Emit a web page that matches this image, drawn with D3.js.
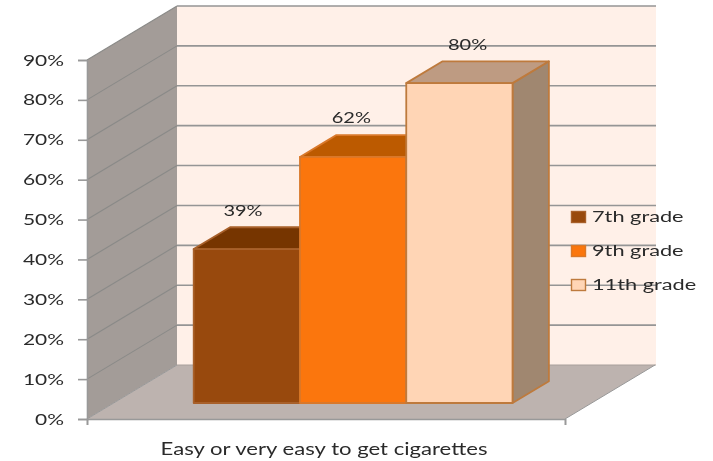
<!DOCTYPE html>
<html><head><meta charset="utf-8">
<script src="https://cdn.jsdelivr.net/npm/d3@7"></script>
<style>html,body{margin:0;padding:0;background:#fff}svg{display:block}
text{font-family:Lato,"Open Sans",sans-serif;fill:#2b2b2b}</style></head>
<body><div id="chart"></div>
<script>
const category = "Easy or very easy to get cigarettes";
const seriesNames = ["7th grade","9th grade","11th grade"];
const seriesValues = [38.6,61.7,80.2];
const valueLabels = ["39%","62%","80%"];
const tickValues = [0,10,20,30,40,50,60,70,80,90];
const frontColors = ["#984807","#FB760C","#FFD5B5"];
const topColors = ["#763604","#BC5A04","#BE9B82"];
const sideColors = ["#6a3005","#A85004","#A08770"];
const edgeColors = ["#A8602A","#D9782A","#BE7A3C"];

const W=713,H=461;
const svg=d3.select("#chart").append("svg").attr("width",W).attr("height",H);
const defs=svg.append("defs");
defs.append("filter").attr("id","soft").append("feGaussianBlur").attr("stdDeviation",0.45);
const root=svg.append("g").attr("filter","url(#soft)");

// oblique projection
const depthX=90, depthY=-54;
const y=d3.scaleLinear().domain([0,90]).range([419,60]);
const x=d3.scaleLinear().domain([0,1]).range([87,565]);
const xSeries=d3.scaleBand().domain(seriesNames).range([x(0.1675),x(0.8345)]);
const pt=(fx,v,z)=>[fx+depthX*z,y(v)+depthY*z];
const path=d3.line();
const poly=(g,pts,fill,stroke,sw)=>g.append("path").attr("d",path(pts)+"Z")
  .attr("fill",fill).attr("stroke",stroke||"none").attr("stroke-width",sw||0).attr("stroke-linejoin","round");

const x0=x(0),x1=x(1),wallEnd=x1+depthX+1;
// back wall, side wall, floor
poly(root,[pt(x0,0,1),pt(wallEnd-depthX,0,1),pt(wallEnd-depthX,90,1),pt(x0,90,1)],"#FFF0E8");
poly(root,[pt(x0,0,0),pt(x0,0,1),pt(x0,90,1),pt(x0,90,0)],"#A39C98");
poly(root,[pt(x0,0,0),pt(x1,0,0),pt(x1,0,1),pt(x0,0,1)],"#BDB3AF");

// gridlines
const grid=root.append("g");
tickValues.forEach(v=>{
  if(v>0) grid.append("path").attr("d",path([pt(x0,v,0),pt(x0,v,1)])).attr("fill","none").attr("stroke","#8A8A88").attr("stroke-width",1.1);
  grid.append("path").attr("d",path([pt(x0,v,1),pt(wallEnd-depthX,v,1)])).attr("fill","none")
    .attr("stroke",v>0?"#959595":"#A8A09C").attr("stroke-width",v>0?1.6:1);
});
root.append("path").attr("d",path([pt(x0,0,0),pt(x0,0,1)])).attr("stroke","#999").attr("fill","none");
root.append("path").attr("d",path([pt(x1,0,0),pt(x1,0,1)])).attr("stroke","#999").attr("fill","none");

// axes
const yAxis=root.append("g").attr("transform",`translate(${x0},0)`)
  .call(d3.axisLeft(y).tickValues(tickValues).tickSize(9).tickPadding(0).tickFormat(d=>d+"%"));
yAxis.selectAll("line").attr("stroke","#999").attr("stroke-width",1.6);
yAxis.select(".domain").attr("stroke","#999").attr("stroke-width",1.6);
yAxis.selectAll("text").remove();
const xAxis=root.append("g").attr("transform",`translate(0,${y(0)})`)
  .call(d3.axisBottom(x).tickValues([0,1]).tickSize(6).tickFormat(""));
xAxis.selectAll("line").attr("stroke","#999").attr("stroke-width",1.6);
xAxis.select(".domain").attr("stroke","#999").attr("stroke-width",1.6);

const label=(s,px,py,anchor,size,sx)=>root.append("g").attr("transform",`translate(${px},${py}) scale(${sx},1)`)
  .append("text").attr("text-anchor",anchor).attr("font-size",size).text(s);

tickValues.forEach(v=>label(v+"%",64,y(v)+5.5,"end",16,1.31));

// bars
const zFront=0.296, zBack=0.70;
seriesNames.forEach((n,i)=>{
  const g=root.append("g");
  const a=xSeries(n), b=a+xSeries.bandwidth(), v=seriesValues[i];
  const s=edgeColors[i];
  poly(g,[pt(b,0,zFront),pt(b,0,zBack),pt(b,v,zBack),pt(b,v,zFront)],sideColors[i],s,1.8);
  poly(g,[pt(a,v,zFront),pt(b,v,zFront),pt(b,v,zBack),pt(a,v,zBack)],topColors[i],s,1.8);
  poly(g,[pt(a,0,zFront),pt(b,0,zFront),pt(b,v,zFront),pt(a,v,zFront)],frontColors[i],s,1.8);
});

// value labels
const labelNudge=[-22,-20,-10];
const labelLift=[22,23,22];
seriesNames.forEach((n,i)=>{
  const c=xSeries(n)+xSeries.bandwidth()/2;
  const p=pt(c,seriesValues[i],zFront+(zBack-zFront)/2);
  label(valueLabels[i],p[0]+labelNudge[i],p[1]-labelLift[i],"middle",16,1.25);
});

// category label
label(category,x(0.5)-2,455,"middle",16.5,1.34);

// legend
const legendY=d3.scalePoint().domain(seriesNames).range([217,285]);
seriesNames.forEach((n,i)=>{
  root.append("rect").attr("x",571.5).attr("y",legendY(n)-5.5).attr("width",14).attr("height",11)
    .attr("fill",frontColors[i]).attr("stroke",edgeColors[i]).attr("stroke-width",1.4);
  label(n,592,legendY(n)+5,"start",16,1.36);
});
</script></body></html>
